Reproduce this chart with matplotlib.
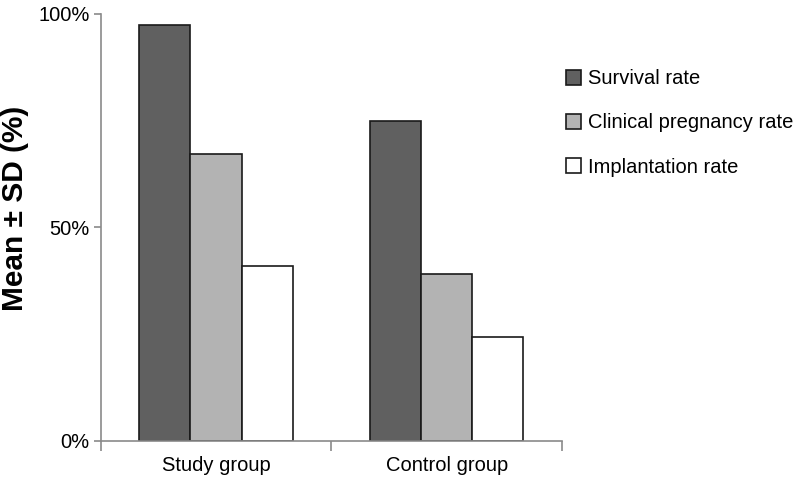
import numpy as np
import matplotlib
matplotlib.use("Agg")
import matplotlib.pyplot as plt
from matplotlib.ticker import PercentFormatter

plt.rcParams['font.family'] = ['Liberation Sans', 'DejaVu Sans']

groups = ['Study group', 'Control group']
series = ['Survival rate', 'Clinical pregnancy rate', 'Implantation rate']
survival = [97.4, 74.9]
clinical = [67.2, 39.1]
implantation = [41.0, 24.4]
colors = ['#606060', '#b3b3b3', '#ffffff']

fig = plt.figure(figsize=(7.99, 4.79), dpi=100)
ax = fig.add_axes([100.7/799, 1-441/479, (562-100.7)/799, (441-14)/479])

x = np.arange(len(groups)) + 0.5
w = 0.222
for i, (vals, lab) in enumerate(zip([survival, clinical, implantation], series)):
    ax.bar(x + (i-1)*w, vals, w, color=colors[i], edgecolor='#1a1a1a',
           linewidth=1.2, label=lab)

ax.set_xlim(0, 2)
ax.set_ylim(0, 100)
ax.set_yticks([0, 50, 100])
ax.yaxis.set_major_formatter(PercentFormatter(decimals=0))
ax.set_xticks([0, 1, 2])
ax.set_xticklabels([])
ax.set_xticks(x, minor=True)
ax.set_xticklabels(groups, minor=True)
ax.tick_params(axis='x', which='minor', length=0, pad=11, labelsize=14.5)
ax.tick_params(axis='x', which='major', length=7, color='#8a8a8a', width=1.2)
ax.tick_params(axis='y', length=5, color='#8a8a8a', width=1.2, pad=3, labelsize=14.5)

for s in ['top', 'right']:
    ax.spines[s].set_visible(False)
for s in ['left', 'bottom']:
    ax.spines[s].set_color('#8a8a8a')
    ax.spines[s].set_linewidth(1.2)

fig.text(15/799, 1-208/479, 'Mean ± SD (%)', rotation=90, fontsize=21.5,
         fontweight='bold', ha='center', va='center')

fig.legend(loc='center left', bbox_to_anchor=(566/799, 1-123/479),
           frameon=False, fontsize=14.5, handlelength=0.75, handleheight=0.75,
           handletextpad=0.35, labelspacing=1.25, borderpad=0, borderaxespad=0)

fig.savefig('out.png', dpi=100)
